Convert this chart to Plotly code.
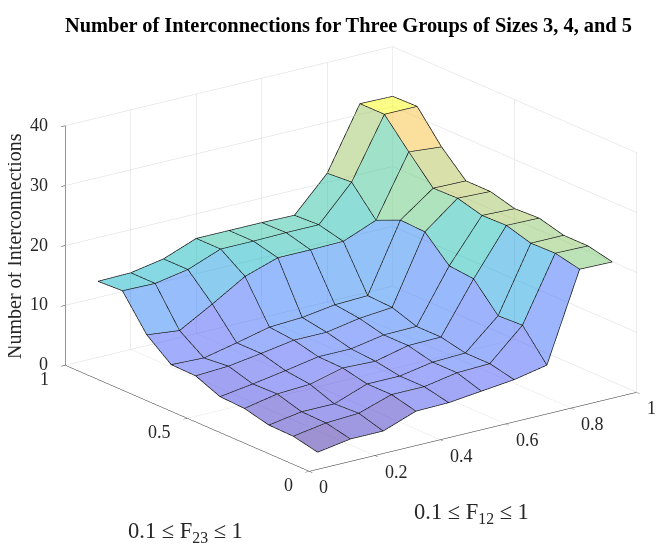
import math
import plotly.graph_objects as go

# ---------------- data ----------------
F12 = [0.1, 0.2, 0.3, 0.4, 0.5, 0.6, 0.7, 0.8, 0.9, 1.0]
F23 = [0.1, 0.2, 0.3, 0.4, 0.5, 0.6, 0.7, 0.8, 0.9, 1.0]

# rows = F23 (0.1 .. 1.0), columns = F12 (0.1 .. 1.0)
row_f23_01 = [0.1, 1.0, 1.0, 3.0, 3.1, 3.7, 4.3, 5.4, 20.1, 20.0]
row_f23_02 = [1.0, 1.9, 2.2, 4.0, 4.0, 5.0, 5.2, 10.3, 21.0, 20.9]
row_f23_03 = [1.1, 2.0, 2.0, 4.0, 4.0, 5.0, 5.2, 10.1, 20.9, 20.9]
row_f23_04 = [2.1, 3.2, 3.5, 4.9, 4.7, 6.0, 6.1, 14.5, 22.1, 22.0]
row_f23_05 = [2.3, 3.1, 4.0, 5.0, 5.0, 6.0, 6.1, 14.9, 22.0, 21.8]
row_f23_06 = [4.0, 4.3, 5.1, 6.0, 6.0, 7.0, 7.5, 18.8, 23.1, 22.9]
row_f23_07 = [4.1, 3.9, 5.1, 6.4, 6.7, 7.5, 7.7, 19.0, 23.0, 22.9]
row_f23_08 = [7.3, 6.7, 9.8, 13.1, 14.9, 14.9, 15.0, 17.2, 27.3, 26.8]
row_f23_09 = [12.9, 12.8, 13.8, 15.9, 15.9, 16.0, 16.0, 21.8, 31.8, 31.8]
row_f23_10 = [12.7, 12.8, 13.8, 15.9, 15.9, 15.9, 15.8, 21.5, 31.8, 31.7]

Z = [row_f23_01, row_f23_02, row_f23_03, row_f23_04, row_f23_05,
     row_f23_06, row_f23_07, row_f23_08, row_f23_09, row_f23_10]

x_ticks = [0, 0.2, 0.4, 0.6, 0.8, 1]
x_ticktext = ["0", "0.2", "0.4", "0.6", "0.8", "1"]
y_ticks = [0, 0.5, 1]
y_ticktext = ["0", "0.5", "1"]
z_ticks = [0, 10, 20, 30, 40]
z_ticktext = ["0", "10", "20", "30", "40"]

title_text = "<b>Number of Interconnections for Three Groups of Sizes 3, 4, and 5</b>"
xlabel = "0.1 \u2264 F<sub>12</sub> \u2264 1"
ylabel = "0.1 \u2264 F<sub>23</sub> \u2264 1"
zlabel = "Number of Interconnections"

# parula-like colour scale
parula = [
    [0.00, "rgb(62,38,168)"],
    [0.06, "rgb(69,68,227)"],
    [0.12, "rgb(71,91,249)"],
    [0.20, "rgb(49,121,252)"],
    [0.28, "rgb(32,149,230)"],
    [0.36, "rgb(13,171,212)"],
    [0.44, "rgb(15,185,186)"],
    [0.52, "rgb(56,196,156)"],
    [0.60, "rgb(102,200,122)"],
    [0.68, "rgb(153,196,99)"],
    [0.76, "rgb(204,191,77)"],
    [0.84, "rgb(245,187,61)"],
    [0.90, "rgb(254,204,51)"],
    [0.96, "rgb(246,232,31)"],
    [1.00, "rgb(249,251,14)"],
]

# ---------------- build mesh ----------------
nx, ny = len(F12), len(F23)
vx, vy, vz = [], [], []
for j in range(ny):
    for i in range(nx):
        vx.append(F12[i]); vy.append(F23[j]); vz.append(Z[j][i])

I, J, K, inten = [], [], [], []
for j in range(ny - 1):
    for i in range(nx - 1):
        a = j * nx + i
        b = j * nx + i + 1
        c = (j + 1) * nx + i + 1
        d = (j + 1) * nx + i
        I += [a, a]; J += [b, c]; K += [c, d]
        inten += [Z[j][i], Z[j][i]]

zmin = min(min(r) for r in Z)
zmax = max(max(r) for r in Z)

mesh = go.Mesh3d(
    x=vx, y=vy, z=vz, i=I, j=J, k=K,
    intensity=inten, intensitymode="cell",
    colorscale=parula, cmin=zmin, cmax=zmax, showscale=False,
    opacity=0.5, flatshading=True,
    lighting=dict(ambient=1.0, diffuse=0.0, specular=0.0, roughness=1.0, fresnel=0.0),
    hoverinfo="skip",
)

# edges
ex, ey, ez = [], [], []
for j in range(ny):
    for i in range(nx):
        ex.append(F12[i]); ey.append(F23[j]); ez.append(Z[j][i])
    ex.append(None); ey.append(None); ez.append(None)
for i in range(nx):
    for j in range(ny):
        ex.append(F12[i]); ey.append(F23[j]); ez.append(Z[j][i])
    ex.append(None); ey.append(None); ez.append(None)

edges = go.Scatter3d(x=ex, y=ey, z=ez, mode="lines",
                     line=dict(color="#111111", width=1.5),
                     hoverinfo="skip", showlegend=False)

fig = go.Figure([mesh, edges])

font_fam = "Liberation Serif, Times New Roman, serif"
tick_font = dict(family=font_fam, size=18, color="#262626")
axis_common = dict(
    showbackground=False, showgrid=True, gridcolor="#d9d9d9", gridwidth=1,
    showline=True, linecolor="#262626", linewidth=1,
    zeroline=False, ticks="outside", ticklen=5, tickcolor="#262626",
    showticklabels=False,
    showspikes=False, title=dict(text=""),
)

# tick labels as upright scene annotations
scene_ann = []
for v, t in zip(x_ticks, x_ticktext):
    scene_ann.append(dict(x=v, y=0, z=0, text=t, showarrow=False, xanchor="left",
                          yanchor="top", xshift=8, yshift=-4, font=tick_font))
for v, t in zip(y_ticks, y_ticktext):
    scene_ann.append(dict(x=0, y=v, z=0, text=t, showarrow=False, xanchor="right",
                          yanchor="top", xshift=-14, yshift=-2, font=tick_font))
for v, t in zip(z_ticks, z_ticktext):
    scene_ann.append(dict(x=0, y=1, z=v, text=t, showarrow=False, xanchor="right",
                          yanchor="middle", xshift=-15, yshift=1, font=tick_font))

S = 1.586
az = math.radians(36.7)
el_t = 0.3424
base_eye = (-math.sin(az) * 1.3, -math.cos(az) * 1.3, el_t * 1.3)
# shift view so the box lands where it should
cshift = (0.0155, -0.0116, -0.0267)
fig.update_layout(
    width=664, height=558,
    margin=dict(l=0, r=0, t=0, b=0),
    paper_bgcolor="white",
    showlegend=False,
    scene=dict(
        domain=dict(x=[0.048, 1.0], y=[0.077, 1.0]),
        aspectmode="manual",
        aspectratio=dict(x=1 * S, y=1 * S, z=0.62 * S),
        camera=dict(
            projection=dict(type="orthographic"),
            eye=dict(x=base_eye[0] + cshift[0], y=base_eye[1] + cshift[1], z=base_eye[2] + cshift[2]),
            center=dict(x=cshift[0], y=cshift[1], z=cshift[2]),
            up=dict(x=0, y=0, z=1),
        ),
        xaxis=dict(axis_common, range=[0, 1], tickvals=x_ticks),
        yaxis=dict(axis_common, range=[0, 1], tickvals=y_ticks),
        zaxis=dict(axis_common, range=[0, 40], tickvals=z_ticks),
        annotations=scene_ann,
    ),
    annotations=[
        dict(text=title_text, x=341 / 664, y=1 - 18 / 558, xref="paper", yref="paper",
             showarrow=False, font=dict(family=font_fam, size=20.4, color="black"),
             xanchor="center", yanchor="middle"),
        dict(text=xlabel, x=463 / 664, y=1 - 505 / 558, xref="paper", yref="paper",
             showarrow=False, font=dict(family=font_fam, size=22.5, color="#262626"),
             xanchor="center", yanchor="middle"),
        dict(text=ylabel, x=177 / 664, y=1 - 524 / 558, xref="paper", yref="paper",
             showarrow=False, font=dict(family=font_fam, size=22.5, color="#262626"),
             xanchor="center", yanchor="middle"),
        dict(text=zlabel, x=6 / 664, y=1 - 238 / 558, xref="paper", yref="paper",
             showarrow=False, textangle=-90, font=dict(family=font_fam, size=20, color="#262626"),
             xanchor="center", yanchor="middle"),
    ],
)

fig.write_html("out.html")
